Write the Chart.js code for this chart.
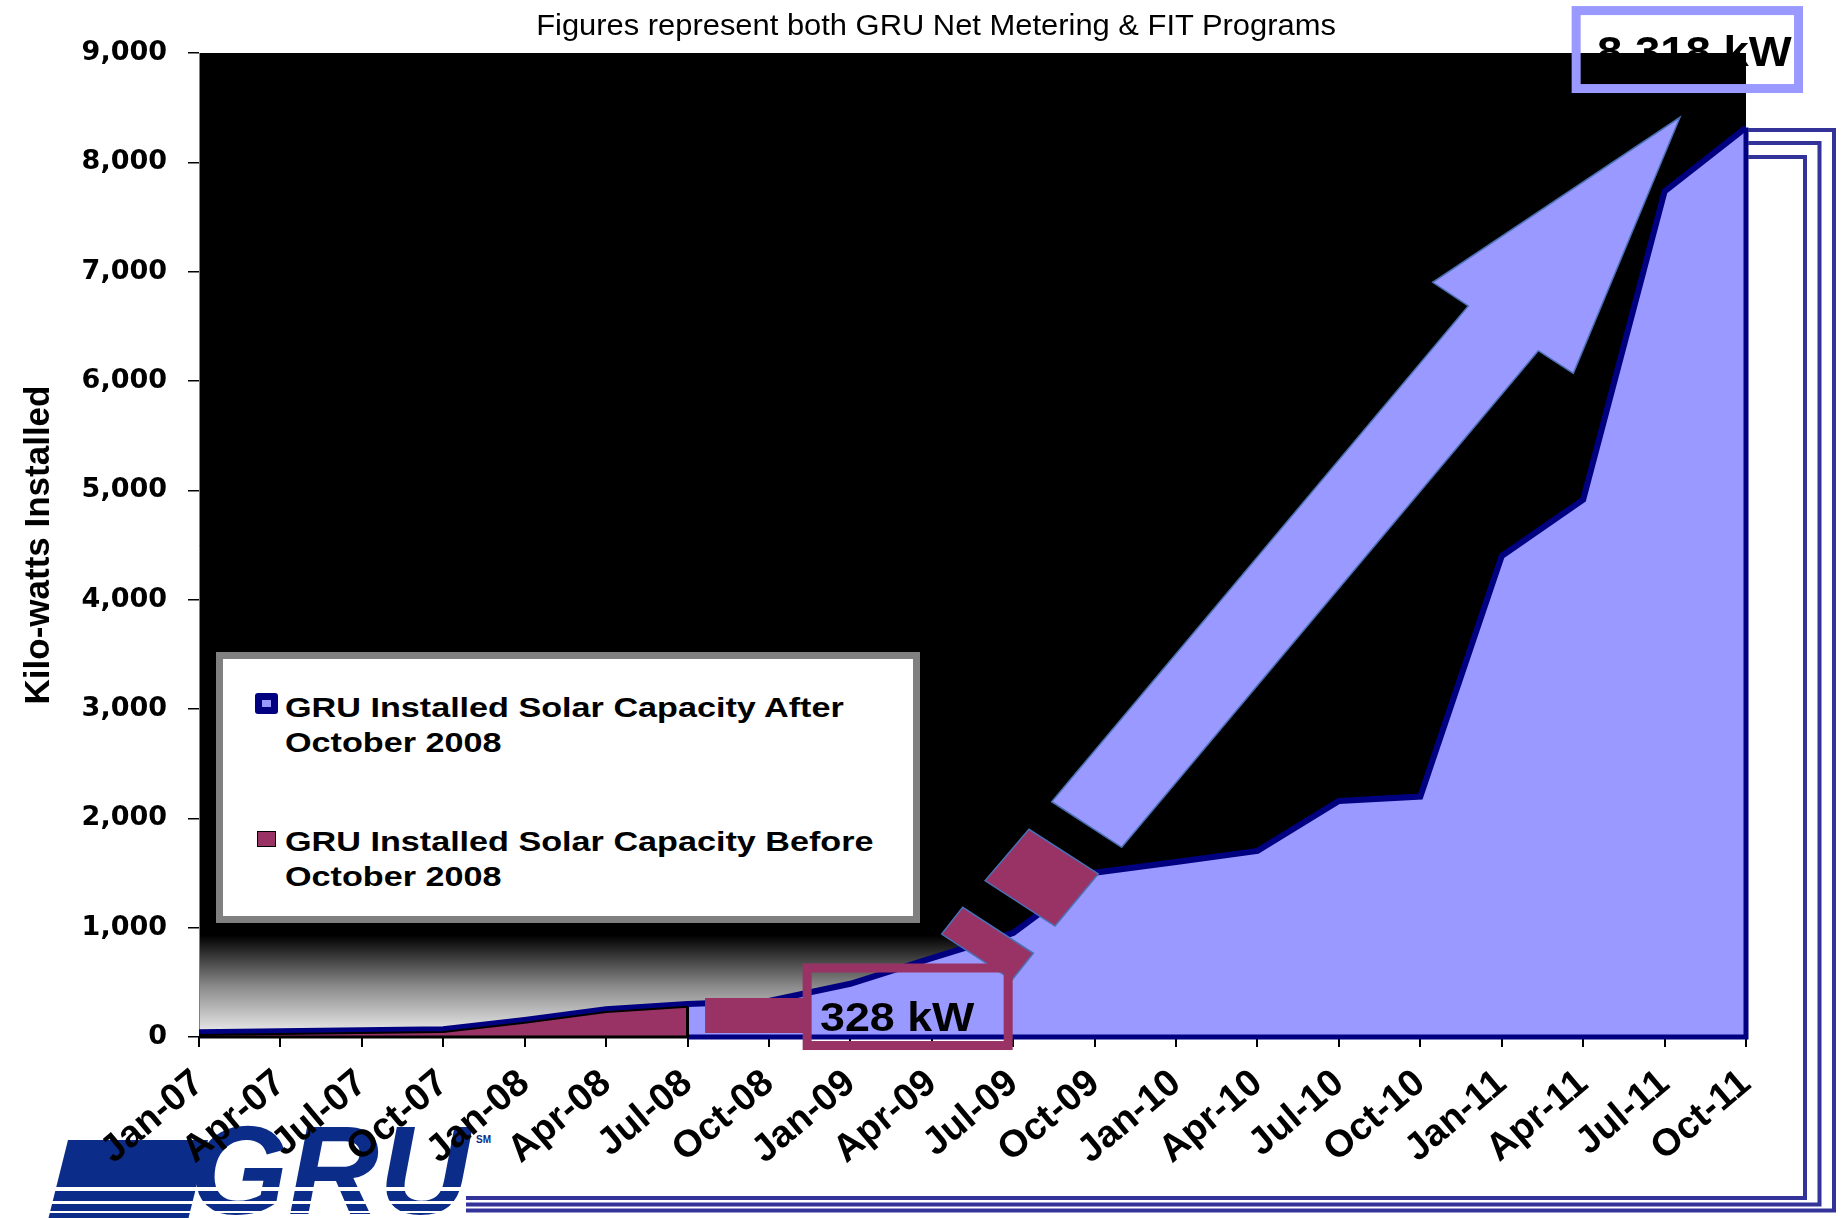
<!DOCTYPE html>
<html>
<head>
<meta charset="utf-8">
<title>GRU Installed Solar Capacity</title>
<script src="https://cdn.jsdelivr.net/npm/chart.js@4.4.1/dist/chart.umd.min.js"></script>
<style>
  html, body { margin: 0; padding: 0; background: #fff; }
  #page { position: relative; width: 1841px; height: 1218px; overflow: hidden; }
  #chartBox { position: absolute; left: 0; top: 0; width: 1841px; height: 1218px; z-index: 1; }
  .txt { position: absolute; z-index: 2; font-family: "Liberation Sans", Arial, sans-serif; color: #000; white-space: nowrap; }
  #title { left: 936px; top: 10px; font-size: 30px; line-height: 30px; transform: translateX(-50%) scaleX(1.03); }
  #legend { position: absolute; z-index: 2; left: 216px; top: 652px; width: 704px; height: 271px;
            box-sizing: border-box; border: 7px solid #808080; background: #fff; }
  #legend .mark { position: absolute; box-sizing: border-box; }
  #legend .m1 { left: 32px; top: 34px; width: 23px; height: 21px; background: #000080; border-radius: 3px; }
  #legend .m1 i { position: absolute; left: 7px; top: 7px; width: 9px; height: 7px; background: #9999ff; }
  #legend .m2 { left: 34px; top: 172px; width: 19px; height: 16px; background: #993366; border: 1px solid #000; }
  #legend .item { position: absolute; left: 62px; font: bold 28px/35px "Liberation Sans", Arial, sans-serif;
                  transform: scaleX(1.22); transform-origin: left top; white-space: nowrap; }
  #lbl328 { left: 820px; top: 997px; font-size: 40px; line-height: 40px; font-weight: bold;
            transform: scaleX(1.12); transform-origin: left top; }
  #lbl8318 { left: 1597px; top: 31px; font-size: 42px; line-height: 42px; font-weight: bold;
             transform: scaleX(1.083); transform-origin: left top; }
  #logo { position: absolute; z-index: 0; left: 40px; top: 1108px; width: 460px; height: 110px; overflow: hidden; }
  #logo .wing { position: absolute; left: 18px; top: 32px; width: 140px; height: 80px; background: #0b2c88; transform: skewX(-14deg); }
  #logo .gru { position: absolute; left: 150px; top: 0px; font: italic bold 126px/126px "Liberation Sans", Arial, sans-serif; color: #0b2c88; }
  #logo .stripe { position: absolute; left: 0; width: 460px; background: #fff; }
  #logo .sm { position: absolute; left: 436px; top: 27px; font: bold 10px/10px "Liberation Sans", Arial, sans-serif; color: #0b2c88; }
</style>
</head>
<body>
<div id="page">
  <div id="logo">
    <div class="wing"></div>
    <div class="gru">GRU</div>
    <div class="stripe" style="top:79px;height:4px"></div>
    <div class="stripe" style="top:93px;height:3px"></div>
    <div class="stripe" style="top:103px;height:2px"></div>
    <div class="sm">SM</div>
  </div>
  <div id="chartBox"><canvas id="solarChart" width="1841" height="1218"></canvas></div>
  <div class="txt" id="title">Figures represent both GRU Net Metering &amp; FIT Programs</div>
  <div id="legend">
    <div class="mark m1"><i></i></div>
    <div class="item" style="top:31px">GRU Installed Solar Capacity After<br>October 2008</div>
    <div class="mark m2"></div>
    <div class="item" style="top:165px">GRU Installed Solar Capacity Before<br>October 2008</div>
  </div>
  <div class="txt" id="lbl328">328 kW</div>
  <div class="txt" id="lbl8318">8,318 kW</div>
</div>

<script>
// quarterly data, kW installed
const categories = ['Jan-07', 'Apr-07', 'Jul-07', 'Oct-07', 'Jan-08', 'Apr-08', 'Jul-08', 'Oct-08',
  'Jan-09', 'Apr-09', 'Jul-09', 'Oct-09', 'Jan-10', 'Apr-10', 'Jul-10', 'Oct-10',
  'Jan-11', 'Apr-11', 'Jul-11', 'Oct-11'];
const capacityAfter = [43, 52, 62, 70, 155, 253, 302, 330, 487, 722, 952, 1503, 1601, 1702, 2159, 2199,
  4400, 4915, 7734, 8318];
const capacityBefore = [18, 27, 37, 45, 130, 228, 277, null, null, null, null, null, null, null, null, null,
  null, null, null, null];
const yTickValues = [0, 1000, 2000, 3000, 4000, 5000, 6000, 7000, 8000, 9000];

const LAVENDER = '#9999ff';
const NAVY = '#000080';
const MAROON = '#993366';
const FRAME = '#333399';
const OUTLINE = '#4a70b5';

// arrow pieces in data units [category index, kW]
const arrowPieces = [
  { color: MAROON, outline: false, points: [[6.215, 357], [7.418, 357], [7.418, 37], [6.215, 37]] },
  { color: MAROON, outline: true, points: [[9.122, 942], [9.380, 1186], [10.247, 766], [9.985, 521]] },
  { color: MAROON, outline: true, points: [[9.654, 1430], [10.194, 1900], [11.045, 1491], [10.513, 1015]] },
  { color: LAVENDER, outline: true, points: [[10.473, 2152], [15.589, 6686], [15.152, 6903], [18.189, 8412],
    [16.879, 6070], [16.449, 6277], [11.332, 1735]] }
];
const calloutBoxes = [
  { color: MAROON, width: 9, from: [7.469, 631], to: [9.938, -78] },
  { color: LAVENDER, width: 9, from: [16.914, 9388], to: [19.645, 8675] }
];
// slide frame, page pixels
const frameLines = [
  [[1748, 157], [1805, 157], [1805, 1198], [466, 1198]],
  [[1748, 143], [1819.5, 143], [1819.5, 1204.5], [466, 1204.5]],
  [[1748, 130], [1834, 130], [1834, 1210.5], [466, 1210.5]]
];

const toPx = (chart, p) => [chart.scales.x.getPixelForValue(p[0]), chart.scales.y.getPixelForValue(p[1])];

const plotBackground = {
  id: 'plotBackground',
  beforeDraw(chart) {
    const { ctx, chartArea: a, scales: { y } } = chart;
    ctx.save();
    ctx.fillStyle = '#000';
    ctx.fillRect(a.left, a.top, a.right - a.left, a.bottom - a.top);
    const g0 = y.getPixelForValue(930);
    const grad = ctx.createLinearGradient(0, g0, 0, a.bottom);
    grad.addColorStop(0, '#000');
    grad.addColorStop(0.5, '#8a8a8a');
    grad.addColorStop(1, '#f2f2f2');
    ctx.fillStyle = grad;
    ctx.fillRect(a.left, g0, a.right - a.left, a.bottom - g0);
    ctx.restore();
  }
};

const areaEdges = {
  id: 'areaEdges',
  afterDatasetsDraw(chart) {
    const { ctx, scales: { y } } = chart;
    const after = chart.getDatasetMeta(0).data;
    const before = chart.getDatasetMeta(1).data.filter(p => !p.skip);
    const base = y.getPixelForValue(0);
    const first = after[0];
    const last = after[after.length - 1];
    const split = before[before.length - 1];
    ctx.save();
    ctx.strokeStyle = NAVY;
    ctx.lineWidth = 5;
    ctx.beginPath();
    ctx.moveTo(last.x, last.y);
    ctx.lineTo(last.x, base);
    ctx.lineTo(split.x, base);
    ctx.stroke();
    ctx.strokeStyle = '#000';
    ctx.lineWidth = 3;
    ctx.beginPath();
    ctx.moveTo(split.x, split.y);
    ctx.lineTo(split.x, base);
    ctx.lineTo(first.x, base);
    ctx.stroke();
    ctx.restore();
  }
};

const annotations = {
  id: 'annotations',
  afterDraw(chart) {
    const { ctx } = chart;
    ctx.save();
    arrowPieces.forEach(piece => {
      ctx.beginPath();
      piece.points.forEach((p, i) => {
        const [px, py] = toPx(chart, p);
        if (i) ctx.lineTo(px, py); else ctx.moveTo(px, py);
      });
      ctx.closePath();
      ctx.fillStyle = piece.color;
      ctx.fill();
      if (piece.outline) {
        ctx.strokeStyle = OUTLINE;
        ctx.lineWidth = 1.5;
        ctx.stroke();
      }
    });
    ctx.lineJoin = 'miter';
    calloutBoxes.forEach(b => {
      const [x0, y0] = toPx(chart, b.from);
      const [x1, y1] = toPx(chart, b.to);
      ctx.strokeStyle = b.color;
      ctx.lineWidth = b.width;
      ctx.strokeRect(x0, y0, x1 - x0, y1 - y0);
    });
    ctx.strokeStyle = FRAME;
    ctx.lineWidth = 4;
    frameLines.forEach(line => {
      ctx.beginPath();
      line.forEach((p, i) => { if (i) ctx.lineTo(p[0], p[1]); else ctx.moveTo(p[0], p[1]); });
      ctx.stroke();
    });
    ctx.restore();
  }
};

new Chart(document.getElementById('solarChart'), {
  type: 'line',
  data: {
    labels: categories,
    datasets: [
      {
        label: 'GRU Installed Solar Capacity After October 2008',
        data: capacityAfter,
        order: 2,
        fill: 'origin',
        backgroundColor: LAVENDER,
        borderColor: NAVY,
        borderWidth: 6,
        borderJoinStyle: 'miter',
        pointRadius: 0,
        tension: 0
      },
      {
        label: 'GRU Installed Solar Capacity Before October 2008',
        data: capacityBefore,
        order: 1,
        fill: 'origin',
        backgroundColor: MAROON,
        borderColor: '#000',
        borderWidth: 2,
        pointRadius: 0,
        tension: 0
      }
    ]
  },
  options: {
    responsive: false,
    animation: false,
    layout: { padding: { left: 0, top: 53, right: 95, bottom: 0 } },
    plugins: { legend: { display: false }, tooltip: { enabled: false } },
    scales: {
      x: {
        offset: false,
        afterFit: s => { s.height = 181; },
        grid: { display: true, drawOnChartArea: false, drawTicks: true, tickLength: 10, color: '#000', lineWidth: 2 },
        border: { display: false },
        ticks: {
          autoSkip: false, minRotation: 40, maxRotation: 40, padding: 14, color: '#000',
          font: { family: 'Liberation Sans', size: 38, weight: 'bold' }
        }
      },
      y: {
        min: 0,
        max: 9000,
        afterFit: s => { s.width = 199; },
        afterBuildTicks: s => { s.ticks = yTickValues.map(v => ({ value: v })); },
        grid: { display: true, drawOnChartArea: false, drawTicks: true, tickLength: 11, color: '#000', lineWidth: 1.5 },
        border: { display: true, color: '#808080', width: 1 },
        ticks: {
          padding: 21, color: '#000', callback: v => v.toLocaleString('en-US'),
          font: { family: 'DejaVu Sans', size: 27, weight: 'bold' }
        },
        title: {
          display: true,
          text: 'Kilo-watts Installed',
          color: '#000',
          font: { family: 'Liberation Sans', size: 35, weight: 'bold' },
          padding: { top: 18, bottom: 0 }
        }
      }
    }
  },
  plugins: [plotBackground, areaEdges, annotations]
});
</script>
</body>
</html>
